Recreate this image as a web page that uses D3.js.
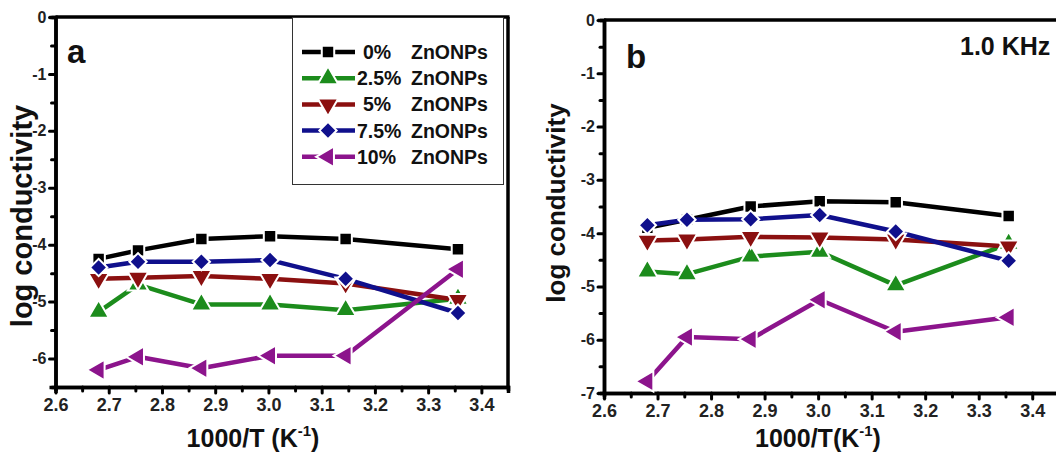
<!DOCTYPE html>
<html>
<head>
<meta charset="utf-8">
<script src="https://cdn.jsdelivr.net/npm/d3@7"></script>
<style>
  body { margin: 0; background: #fff; }
  svg { display: block; }
  svg text { font-family: "Liberation Sans", Arial, sans-serif; font-weight: bold; }
</style>
</head>
<body>
<svg id="chart" width="1056" height="453"></svg>
<script>
"use strict";

// 1000/T for T = 373, 363, 348, 333, 318, 298 K
var invT = [2.681, 2.755, 2.874, 3.003, 3.145, 3.356];

var seriesNames = ["0%", "2.5%", "5%", "7.5%", "10%"];
var seriesColors = ["#000000", "#1c8c1c", "#8b1010", "#10108c", "#8c148c"];
var seriesShapes = ["square", "up", "down", "diamond", "left"];

// panel a : log conductivity
var condA_0   = [-4.25, -4.10, -3.90, -3.85, -3.90, -4.08];
var condA_2_5 = [-5.18, -4.70, -5.05, -5.05, -5.15, -4.95];
var condA_5   = [-4.60, -4.58, -4.55, -4.60, -4.68, -4.97];
var condA_7_5 = [-4.40, -4.30, -4.30, -4.27, -4.60, -5.20];
var condA_10  = [-6.20, -5.97, -6.17, -5.95, -5.95, -4.43];

// panel b : log conductivity at 1.0 KHz
var condB_0   = [-3.90, -3.75, -3.50, -3.40, -3.42, -3.68];
var condB_2_5 = [-4.72, -4.77, -4.44, -4.35, -4.98, -4.20];
var condB_5   = [-4.14, -4.12, -4.07, -4.08, -4.12, -4.25];
var condB_7_5 = [-3.85, -3.75, -3.74, -3.66, -3.97, -4.52];
var condB_10  = [-6.78, -5.95, -5.99, -5.25, -5.85, -5.58];

var xTicks = [2.6, 2.7, 2.8, 2.9, 3.0, 3.1, 3.2, 3.3, 3.4];
var xMinor = [2.65, 2.75, 2.85, 2.95, 3.05, 3.15, 3.25, 3.35];

var svg = d3.select("#chart");

function symbolPath(shape) {
  if (shape == "square") return d3.symbol().type(d3.symbolSquare).size(155)();
  if (shape == "diamond") return d3.symbol().type(d3.symbolSquare).size(150)();
  return d3.symbol().type(d3.symbolTriangle).size(185)();
}
function symbolRotate(shape) {
  if (shape == "diamond") return 45;
  if (shape == "down") return 180;
  if (shape == "left") return -90;
  return 0;
}

function drawPanel(opt) {
  var g = svg.append("g");
  var x = d3.scaleLinear().domain([2.6, 3.45]).range([opt.left, opt.right]);
  var y = d3.scaleLinear().domain([opt.ymin, 0]).range([opt.bottom, opt.top]);

  // axes
  var xAxis = g.append("g")
    .attr("transform", "translate(0," + opt.bottom + ")")
    .call(d3.axisBottom(x).tickValues(xTicks).tickSize(6).tickPadding(5)
      .tickFormat(d3.format(".1f")));
  var xAxisMinor = g.append("g")
    .attr("transform", "translate(0," + opt.bottom + ")")
    .call(d3.axisBottom(x).tickValues(xMinor).tickSize(4).tickFormat(""));

  var yTicks = d3.range(Math.ceil(opt.ymin), 0.5, 1);
  var yMinor = d3.range(Math.ceil(opt.ymin) - 0.5, 0, 1).filter(function(v) { return v >= opt.ymin; });
  var yAxis = g.append("g")
    .attr("transform", "translate(" + opt.left + ",0)")
    .call(d3.axisLeft(y).tickValues(yTicks).tickSize(6).tickPadding(3)
      .tickFormat(function(d) { return d < 0 ? "-" + Math.abs(d) : "" + d; }));
  var yAxisMinor = g.append("g")
    .attr("transform", "translate(" + opt.left + ",0)")
    .call(d3.axisLeft(y).tickValues(yMinor).tickSize(4).tickFormat(""));

  [xAxis, xAxisMinor, yAxis, yAxisMinor].forEach(function(a) {
    a.attr("font-family", null);
    a.select(".domain").attr("stroke-width", 3.5);
    a.selectAll(".tick line").attr("stroke-width", 3).attr("stroke-linecap", "round");
  });
  xAxis.selectAll("text").attr("font-size", 18).attr("fill", "#222");
  yAxis.selectAll("text").attr("font-size", 16).attr("fill", "#222");

  // frame top / right
  g.append("line").attr("x1", opt.left).attr("x2", opt.right + 1.5)
    .attr("y1", opt.top).attr("y2", opt.top).attr("stroke", "#000").attr("stroke-width", 3.5);
  g.append("line").attr("x1", opt.right).attr("x2", opt.right)
    .attr("y1", opt.top).attr("y2", opt.bottom + 1.5).attr("stroke", "#000").attr("stroke-width", 3.5);

  // series
  var line = d3.line().x(function(d) { return x(d[0]); }).y(function(d) { return y(d[1]); });
  opt.data.forEach(function(vals, i) {
    var pts = invT.map(function(t, j) { return [t, vals[j]]; });
    g.append("path").attr("d", line(pts)).attr("fill", "none")
      .attr("stroke", seriesColors[i]).attr("stroke-width", 4.5).attr("stroke-linejoin", "round");
  });
  opt.data.forEach(function(vals, i) {
    g.selectAll(null).data(vals).enter().append("path")
      .attr("d", symbolPath(seriesShapes[i]))
      .attr("transform", function(d, j) {
        return "translate(" + x(invT[j]) + "," + y(d) + ") rotate(" + symbolRotate(seriesShapes[i]) + ")";
      })
      .attr("fill", seriesColors[i])
      .attr("stroke", "#fff").attr("stroke-width", 2);
  });

  // labels
  g.append("text").attr("x", opt.letterX).attr("y", opt.letterY)
    .attr("font-size", 33).attr("fill", "#111").text(opt.letter);
  g.append("text")
    .attr("transform", "translate(" + opt.ylabX + "," + opt.ylabY + ") rotate(-90)")
    .attr("text-anchor", "middle").attr("font-size", opt.ylabSize).attr("fill", "#111")
    .text("log conductivity");
  var xl = g.append("text").attr("x", opt.xlabX).attr("y", 447)
    .attr("text-anchor", "middle").attr("font-size", 25).attr("fill", "#111");
  xl.append("tspan").text(opt.xlabText);
  xl.append("tspan").attr("font-size", 15).attr("dy", -11).text("-1");
  xl.append("tspan").attr("dy", 11).text(")");
  return g;
}

drawPanel({
  left: 55.5, right: 508, top: 17, bottom: 387, ymin: -6.5,
  data: [condA_0, condA_2_5, condA_5, condA_7_5, condA_10],
  letter: "a", letterX: 67, letterY: 63,
  ylabX: 32, ylabY: 216, ylabSize: 29,
  xlabX: 253, xlabText: "1000/T (K"
});

var gb = drawPanel({
  left: 604, right: 1059, top: 20, bottom: 393, ymin: -7,
  data: [condB_0, condB_2_5, condB_5, condB_7_5, condB_10],
  letter: "b", letterX: 626, letterY: 68,
  ylabX: 565, ylabY: 203, ylabSize: 26,
  xlabX: 818, xlabText: "1000/T(K"
});
gb.append("text").attr("x", 960).attr("y", 55).attr("font-size", 25)
  .attr("fill", "#111").text("1.0 KHz");

// legend (panel a)
var legend = svg.append("g");
legend.append("rect").attr("x", 292.5).attr("y", 17.5).attr("width", 211).attr("height", 167)
  .attr("fill", "#fff").attr("stroke", "#333").attr("stroke-width", 1);
var rows = legend.selectAll("g.row").data(seriesNames).enter().append("g")
  .attr("class", "row")
  .attr("transform", function(d, i) { return "translate(0," + (52 + i * 26.2) + ")"; });
rows.append("line").attr("x1", 302).attr("x2", 355).attr("y1", 0).attr("y2", 0)
  .attr("stroke", function(d, i) { return seriesColors[i]; }).attr("stroke-width", 4.5);
rows.append("path")
  .attr("d", function(d, i) { return symbolPath(seriesShapes[i]); })
  .attr("transform", function(d, i) { return "translate(328,0) rotate(" + symbolRotate(seriesShapes[i]) + ")"; })
  .attr("fill", function(d, i) { return seriesColors[i]; })
  .attr("stroke", "#fff").attr("stroke-width", 2);
rows.append("text").attr("x", function(d) { return d.length > 2 ? 357 : 363; }).attr("y", 7)
  .attr("font-size", 19.5).attr("fill", "#111").text(function(d) { return d; });
rows.append("text").attr("x", 411).attr("y", 7)
  .attr("font-size", 19.5).attr("fill", "#111").text("ZnONPs");
</script>
</body>
</html>
